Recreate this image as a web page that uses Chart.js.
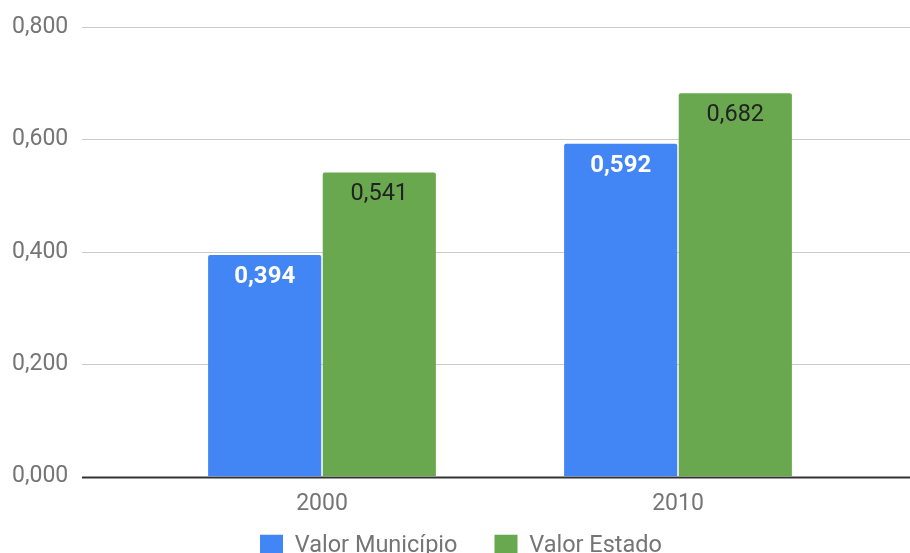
<!DOCTYPE html>
<html>
<head>
<meta charset="utf-8">
<script src="https://cdn.jsdelivr.net/npm/chart.js@4.4.1/dist/chart.umd.min.js"></script>
<style>
  html, body { margin: 0; padding: 0; background: #fff; overflow: hidden; }
  #wrap { width: 910px; height: 587px; }
</style>
</head>
<body>
<div id="wrap"><canvas id="chart"></canvas></div>
<script>
const anos = ['2000', '2010']
const valorMunicipio = [0.394, 0.592]
const valorEstado = [0.541, 0.682]
const yTicks = [0, 0.2, 0.4, 0.6, 0.8]

function formatado(v) {
  return v.toFixed(3).replace('.', ',')
}

// grid lines run wider than the bar area, like the original
const gridPlugin = {
  id: 'gridWide',
  beforeDatasetsDraw(chart) {
    const ctx = chart.ctx
    const y = chart.scales.y
    ctx.save()
    yTicks.forEach(t => {
      const py = Math.round(y.getPixelForValue(t)) + 0.5
      ctx.beginPath()
      if (t === 0) {
        ctx.strokeStyle = '#333333'
        ctx.lineWidth = 2
      } else {
        ctx.strokeStyle = '#cccccc'
        ctx.lineWidth = 1
      }
      ctx.moveTo(82, py)
      ctx.lineTo(chart.width, py)
      ctx.stroke()
    })
    ctx.restore()
  }
}

// value labels inside the bars
const labelPlugin = {
  id: 'barLabels',
  afterDatasetsDraw(chart) {
    const ctx = chart.ctx
    ctx.save()
    ctx.textAlign = 'center'
    ctx.textBaseline = 'middle'
    chart.data.datasets.forEach((ds, i) => {
      const meta = chart.getDatasetMeta(i)
      meta.data.forEach((bar, j) => {
        if (i === 0) {
          ctx.fillStyle = '#ffffff'
          ctx.font = 'bold 24px Roboto'
        } else {
          ctx.fillStyle = '#222222'
          ctx.font = '23.5px Roboto'
        }
        ctx.fillText(formatado(ds.data[j]), bar.x, bar.y + 22)
      })
    })
    ctx.restore()
  }
}

// pull the legend up a bit closer to the axis labels
const legendShift = {
  id: 'legendShift',
  afterLayout(chart) {
    chart.legend.top -= 19
    chart.legend.bottom -= 19
  }
}

new Chart(document.getElementById('chart'), {
  type: 'bar',
  data: {
    labels: anos,
    datasets: [
      {
        label: 'Valor Município',
        data: valorMunicipio,
        backgroundColor: '#4285F4',
        borderRadius: 2,
        borderSkipped: 'bottom'
      },
      {
        label: 'Valor Estado',
        data: valorEstado,
        backgroundColor: '#6AA84F',
        borderRadius: 2,
        borderSkipped: 'bottom'
      }
    ]
  },
  options: {
    responsive: true,
    maintainAspectRatio: false,
    animation: false,
    categoryPercentage: 0.644,
    barPercentage: 0.987,
    layout: { padding: { top: 27, left: 12, right: 0, bottom: 0 } },
    scales: {
      x: {
        grid: { display: false },
        border: { display: false },
        ticks: { color: '#757575', font: { family: 'Roboto', size: 23 }, padding: 6 },
        afterFit(scale) { scale.height = 40 }
      },
      y: {
        min: 0,
        max: 0.8,
        grid: { display: false },
        border: { display: false },
        ticks: {
          stepSize: 0.2,
          crossAlign: 'far',
          padding: 4,
          color: '#757575',
          font: { family: 'Roboto', size: 23 },
          callback: v => formatado(v)
        },
        afterFit(scale) { scale.width = 132 }
      },
      y2: {
        position: 'right',
        grid: { display: false },
        border: { display: false },
        ticks: { display: false },
        afterFit(scale) { scale.width = 54 }
      }
    },
    plugins: {
      legend: {
        position: 'bottom',
        labels: {
          boxWidth: 23,
          boxHeight: 23,
          padding: 37,
          color: '#757575',
          font: { family: 'Roboto', size: 23.5 }
        }
      },
      tooltip: { enabled: false }
    }
  },
  plugins: [gridPlugin, labelPlugin, legendShift]
})
</script>
</body>
</html>
